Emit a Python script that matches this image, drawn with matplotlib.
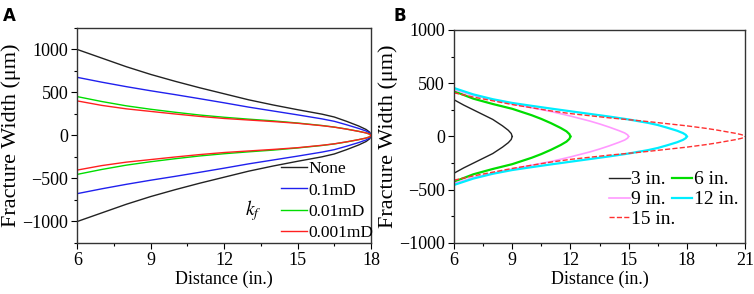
import matplotlib
matplotlib.use("Agg")
import matplotlib.pyplot as plt
from matplotlib.ticker import MultipleLocator

plt.rcParams['font.family'] = ['Liberation Serif', 'DejaVu Serif']
plt.rcParams['mathtext.fontset'] = 'stix'

# panel A: fracture width along distance for different kf (upper half, mirrored)
xa = [6, 7, 8, 9, 10, 11, 12, 13, 14, 15, 16, 16.5, 17, 17.5, 17.8, 17.95, 18]
w_none = [1000, 900, 800, 710, 630, 555, 485, 415, 355, 300, 248, 215, 165, 110, 70, 38, 0]
w_01 = [676, 620, 568, 520, 475, 428, 380, 330, 285, 240, 193, 165, 125, 82, 52, 28, 0]
w_001 = [452, 395, 345, 305, 270, 238, 212, 190, 170, 145, 116, 98, 75, 48, 30, 15, 0]
w_0001 = [402, 350, 310, 280, 250, 222, 198, 180, 162, 142, 114, 97, 74, 48, 30, 15, 0]
labels_a = ['None', '0.1mD', '0.01mD', '0.001mD']

# panel B: fracture width for different fracture lengths
x3 = [6, 6.5, 7, 7.5, 8, 8.5, 8.8, 8.95, 9]
w3 = [345, 295, 250, 205, 160, 100, 58, 28, 0]
x6 = [6, 7, 8, 9, 10, 10.5, 11, 11.5, 11.8, 11.95, 12]
w6 = [425, 355, 305, 260, 200, 165, 125, 80, 48, 22, 0]
x9 = [6, 7, 8, 9, 10, 11, 12, 13, 13.5, 14, 14.5, 14.8, 14.95, 15]
w9 = [440, 385, 345, 305, 270, 235, 192, 145, 118, 88, 55, 33, 15, 0]
x12 = [6, 7, 8, 9, 10, 11, 12, 13, 14, 15, 16, 16.5, 17, 17.5, 17.8, 17.95, 18]
w12 = [455, 395, 350, 315, 288, 262, 237, 212, 187, 160, 128, 108, 82, 54, 32, 15, 0]
x15 = [6, 7, 8, 9, 10, 11, 12, 13, 14, 15, 16, 17, 18, 19, 19.5, 20, 20.5, 20.8, 20.95, 21]
w15 = [410, 370, 335, 300, 270, 240, 215, 195, 175, 158, 140, 120, 100, 76, 62, 46, 30, 18, 9, 0]
labels_b = ['3 in.', '6 in.', '9 in.', '12 in.', '15 in.']

fig = plt.figure(figsize=(7.54, 2.94), dpi=100)

# ---- A ----
ax = fig.add_axes([0.1025, 0.1735, 0.3895, 0.7313])
cols_a = ['#222222', '#2020ee', '#00dd00', '#ff2020']
for w, c, lab in zip([w_none, w_01, w_001, w_0001], cols_a, labels_a):
    ax.plot(xa, w, color=c, lw=1.0, label=lab)
    ax.plot(xa, [-v for v in w], color=c, lw=1.0)
ax.set_xlim(6, 18)
ax.set_ylim(-1250, 1250)
ax.legend(loc='lower right', frameon=False, fontsize=12.5, handlelength=1.5,
          handletextpad=0.1, labelspacing=0.3, borderaxespad=0.0, borderpad=0.1,
          bbox_to_anchor=(1.015, 0.0))
ax.text(0.6, 0.15, '$k_f$', transform=ax.transAxes, fontsize=14, ha='center', va='center')
fig.text(0.004, 0.975, 'A', fontsize=12, fontweight='bold', family='DejaVu Sans', va='top')

# ---- B ----
bx = fig.add_axes([0.6021, 0.1735, 0.386, 0.7245])
series_b = [(x3, w3, '#222222', '-', 1.0), (x6, w6, '#00dd00', '-', 1.6),
            (x9, w9, '#ff99ff', '-', 1.2), (x12, w12, '#00eeff', '-', 1.6),
            (x15, w15, '#ff3030', '--', 1.0)]
handles = []
for (x, w, c, ls, lw), lab in zip(series_b, labels_b):
    h, = bx.plot(x, w, color=c, ls=ls, lw=lw, label=lab)
    bx.plot(x, [-v for v in w], color=c, ls=ls, lw=lw)
    handles.append(h)
bx.set_xlim(6, 21)
bx.set_ylim(-1000, 1000)
# row-major legend order: 3, 6 / 9, 12 / 15
order = [0, 2, 4, 1, 3]
bx.legend([handles[i] for i in order], [labels_b[i] for i in order],
          loc='lower right', ncol=2, frameon=False, fontsize=14, handlelength=1.05,
          handletextpad=0.1, labelspacing=0.12, columnspacing=-0.2,
          borderaxespad=0.0, borderpad=0.1, bbox_to_anchor=(0.985, 0.06))
fig.text(0.522, 0.975, 'B', fontsize=12, fontweight='bold', family='DejaVu Sans', va='top')

for a in (ax, bx):
    a.xaxis.set_major_locator(MultipleLocator(3))
    a.xaxis.set_minor_locator(MultipleLocator(1.5))
    a.yaxis.set_major_locator(MultipleLocator(500))
    a.yaxis.set_minor_locator(MultipleLocator(250))
    a.set_xlabel('Distance (in.)', fontsize=13, labelpad=1)
    a.set_ylabel('Fracture Width (\u03bcm)', fontsize=16, labelpad=1)
    a.tick_params(which='both', direction='out', top=False, right=False, labelsize=13, pad=2)
    a.tick_params(which='major', length=4.5, width=0.8)
    a.tick_params(which='minor', length=2.5, width=0.8)
    for s in a.spines.values():
        s.set_linewidth(1.0)
        s.set_color('#333333')

fig.savefig('out.png', dpi=100)
